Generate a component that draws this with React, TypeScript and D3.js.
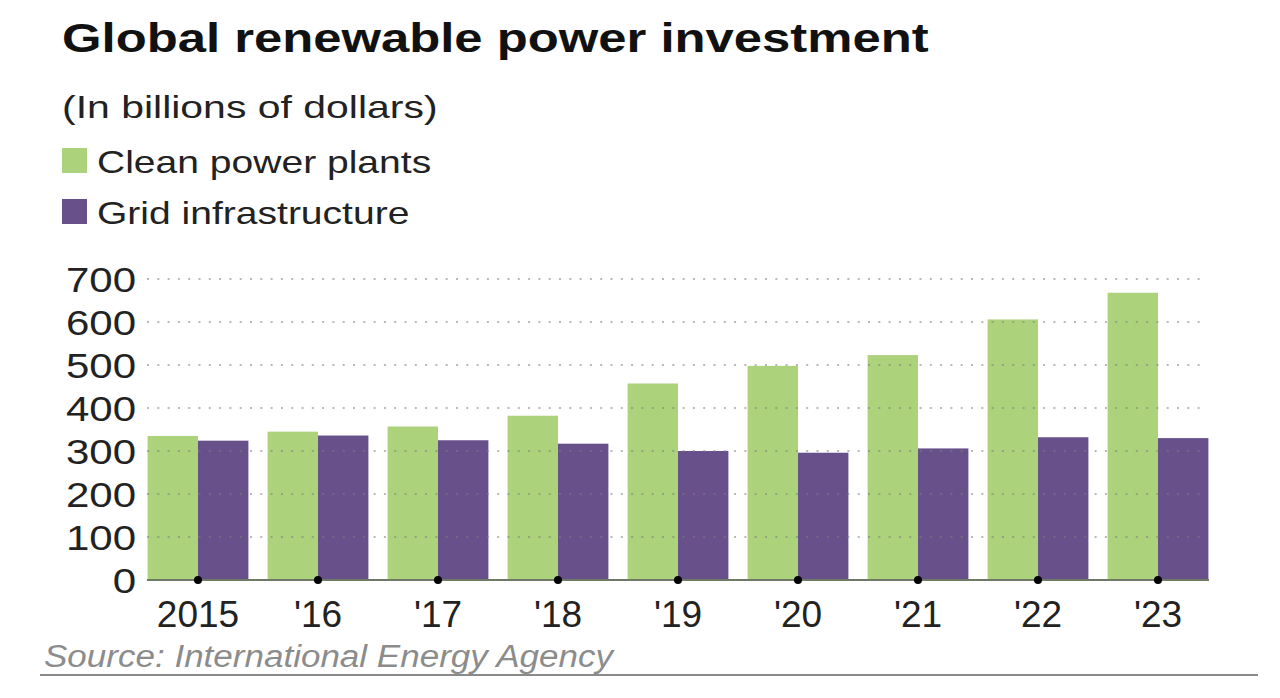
import React from "react";
import * as d3 from "d3";

const years = ["2015", "'16", "'17", "'18", "'19", "'20", "'21", "'22", "'23"];
const cleanPower = [335, 345, 357, 382, 457, 498, 523, 606, 668];
const gridInfra = [324, 336, 325, 317, 300, 296, 306, 332, 330];
const yTicks = [0, 100, 200, 300, 400, 500, 600, 700];
const seriesKeys = ["clean", "grid"];
const seriesLabels = ["Clean power plants", "Grid infrastructure"];
const seriesColors = ["#acd27c", "#68518b"];

const W = 1280;
const H = 698;
const FONT = "'Liberation Sans', Arial, Helvetica, sans-serif";

export default function App() {
  const x = d3
    .scaleBand<string>()
    .domain(years)
    .range([138, 1218])
    .paddingInner(0.16)
    .paddingOuter(0.08);
  const xs = d3.scaleBand<string>().domain(seriesKeys).range([0, x.bandwidth()]).padding(0);
  const y = d3.scaleLinear().domain([0, 700]).range([580, 279]);

  const gridX0 = 147;
  const gridX1 = 1202;
  const values = [cleanPower, gridInfra];

  return (
    <svg
      width={W}
      height={H}
      style={{ position: "absolute", left: 0, top: 0, background: "#fff", fontFamily: FONT }}
    >
      <rect x={0} y={0} width={W} height={H} fill="#fff" />
      {/* Title */}
      <text transform="translate(62,52) scale(1.27,1)" fontSize={40} fontWeight="bold" fill="#111">
        Global renewable power investment
      </text>
      <text transform="translate(62,118) scale(1.28,1)" fontSize={32} fill="#222">
        (In billions of dollars)
      </text>
      {/* Legend */}
      {seriesLabels.map((lab, i) => (
        <g key={lab}>
          <rect x={62} y={148 + i * 51} width={25} height={25} fill={seriesColors[i]} />
          <text transform={`translate(97,${173 + i * 51}) scale(1.22,1)`} fontSize={32} fill="#222">
            {lab}
          </text>
        </g>
      ))}
      {/* Bars */}
      {years.map((yr, i) => (
        <g key={yr} transform={`translate(${x(yr)},0)`}>
          {seriesKeys.map((k, j) => (
            <rect
              key={k}
              x={xs(k)}
              y={y(values[j][i])}
              width={xs.bandwidth()}
              height={y(0) - y(values[j][i])}
              fill={seriesColors[j]}
            />
          ))}
        </g>
      ))}
      {/* Gridlines (dotted, over bars) */}
      {yTicks
        .filter((t) => t > 0)
        .map((t) => (
          <line
            key={t}
            x1={gridX0}
            x2={gridX1}
            y1={y(t)}
            y2={y(t)}
            stroke="rgba(125,125,125,0.55)"
            strokeWidth={2}
            strokeDasharray="2,8.3"
          />
        ))}
      {/* Y labels */}
      {yTicks.map((t) => (
        <text
          key={t}
          transform={`translate(136,${y(t)}) scale(1.2,1)`}
          dy="0.36em"
          textAnchor="end"
          fontSize={35}
          fill="#222"
        >
          {t}
        </text>
      ))}
      {/* Baseline */}
      <line x1={gridX0} x2={1209} y1={y(0)} y2={y(0)} stroke="#6f7a66" strokeWidth={2} />
      {years.map((yr) => {
        const cx = (x(yr) as number) + x.bandwidth() / 2;
        return (
          <g key={yr}>
            <circle cx={cx} cy={y(0)} r={4} fill="#000" />
            <text x={cx} y={627} textAnchor="middle" fontSize={37} fill="#222">
              {yr}
            </text>
          </g>
        );
      })}
      {/* Source */}
      <text transform="translate(44,667) scale(1.13,1)" fontSize={31} fontStyle="italic" fill="#8c8c8c">
        Source: International Energy Agency
      </text>
      <line x1={40} x2={1258} y1={675} y2={675} stroke="#8a8a8a" strokeWidth={2} />
    </svg>
  );
}
